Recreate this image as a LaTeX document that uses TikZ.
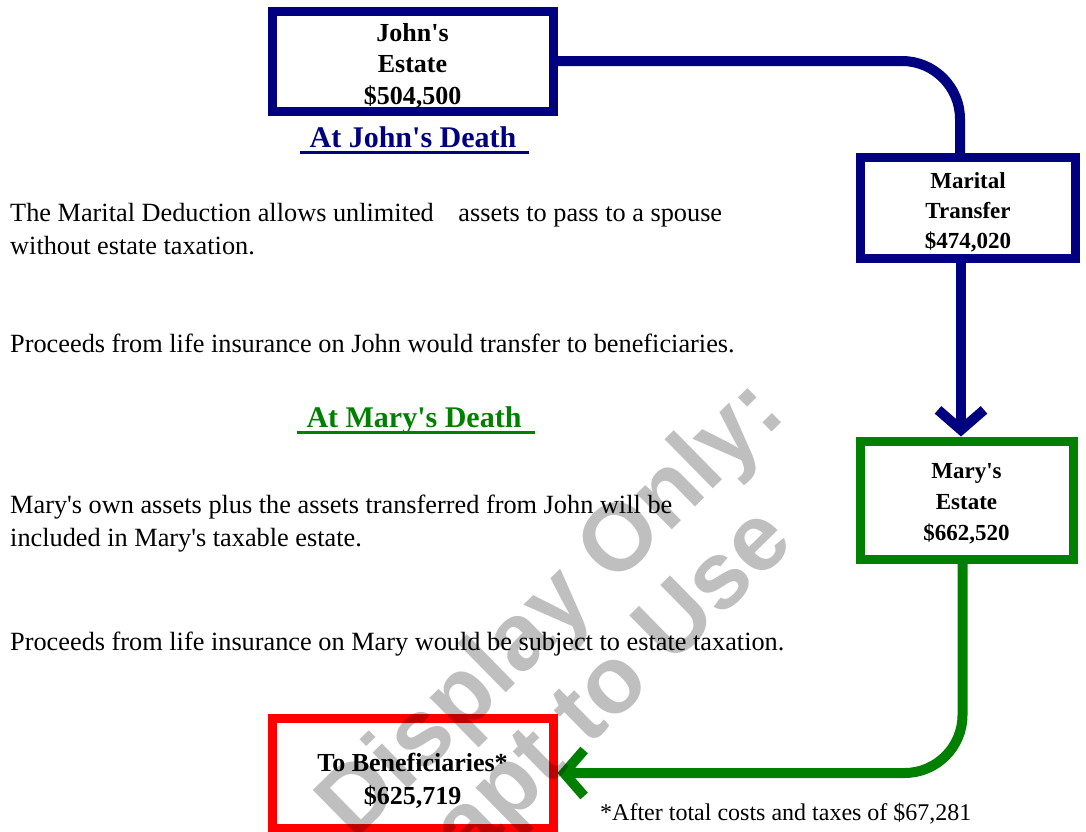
\documentclass[tikz,border=0pt]{standalone}
\usepackage{fontspec}
\setmainfont{Liberation Serif}
\newfontfamily\wmfont{Liberation Sans}
\usepackage{xcolor}
\usetikzlibrary{arrows.meta}
\definecolor{navyline}{RGB}{0,0,128}
\definecolor{grline}{RGB}{0,128,0}
\definecolor{redline}{RGB}{255,0,0}
\newcommand{\ap}{\textquotesingle}
\newcommand{\lift}[1]{\rule{0pt}{#1}}

\begin{document}
\begin{tikzpicture}[x=1pt,y=-1pt,
    estate/.style={draw,line width=9pt,fill=white,align=center,inner sep=0pt,
        font=\bfseries\fontsize{23}{30}\selectfont},
    flow/.style={line width=10pt,rounded corners=58pt},
    barb/.style={-{Straight Barb[length=20pt,width=46pt]}},
    para/.style={anchor=north west,align=left,inner sep=0pt,
        font=\fontsize{26.3}{33}\selectfont},
    heading/.style={anchor=base,inner sep=0pt,font=\bfseries\fontsize{30}{36}\selectfont},
    wmark/.style={rotate=44.5,anchor=base east,inner sep=0pt,text=black,text opacity=0.25,
        font=\wmfont\bfseries\fontsize{95}{110}\selectfont}]
            \useasboundingbox (0,0) rectangle (1086,831);
            \clip (0,0) rectangle (1086,831);
            % estates
            \node[estate,draw=navyline,minimum width=281pt,minimum height=100pt,
                font=\bfseries\fontsize{26}{31.5}\selectfont] (john) at (412.5,61) {\lift{28pt}John\ap s\\Estate\\\$504,500};
            \node[estate,draw=navyline,minimum width=215pt,minimum height=101pt] (marital) at (968,208) {\lift{24pt}Marital\\Transfer\\\$474,020};
            \node[estate,draw=grline,minimum width=213pt,minimum height=118pt,
                font=\bfseries\fontsize{23}{31}\selectfont] (mary) at (966.5,500) {\lift{23pt}Mary\ap s\\Estate\\\$662,520};
            \node[estate,draw=redline,minimum width=281pt,minimum height=110pt,
                font=\bfseries\fontsize{26}{33}\selectfont] (benef) at (412.5,773) {\lift{34pt}To Beneficiaries*\\\$625,719};
            % flows
            \draw[navyline,flow] (john.east) -- ([xshift=-8pt]john.east -| marital.north) -- ([xshift=-8pt]marital.north);
            \draw[navyline,line width=10pt,barb] ([xshift=-7pt]marital.south) -- ([xshift=-7pt]marital.south |- mary.north);
            \draw[grline,flow,barb] ([xshift=-4pt]mary.south) |- (benef.east);
            % texts
            \node[heading,navyline] (jdeath) at (413,147) {At John\ap s Death};
            \draw[navyline,line width=3pt] ([xshift=-9pt,yshift=-5pt]jdeath.base west) -- ([xshift=12pt,yshift=-5pt]jdeath.base east);
            \node[para] (deduct) at (10,203) {The Marital Deduction allows unlimited\hspace{18pt} assets to pass to a spouse\\without estate taxation.};
            \node[para] (jins) at (10,334) {Proceeds from life insurance on John would transfer to beneficiaries.};
            \node[heading,grline] (mdeath) at (414,427) {At Mary\ap s Death};
            \draw[grline,line width=3pt] ([xshift=-9pt,yshift=-5pt]mdeath.base west) -- ([xshift=13pt,yshift=-5pt]mdeath.base east);
            \node[para] (incl) at (10,495) {Mary\ap s own assets plus the assets transferred from John will be\\included in Mary\ap s taxable estate.};
            \node[para] (mins) at (10,632) {Proceeds from life insurance on Mary would be subject to estate taxation.};
            \node[anchor=base west,inner sep=0pt,font=\fontsize{24}{28}\selectfont] (note) at (600,820) {*After total costs and taxes of \$67,281};
            % watermark
            \node[wmark] (wm1) at (788,416) {Display Only:};
            \node[wmark] (wm2) at (796,544) {apt to Use};
        \end{tikzpicture}
\end{document}
